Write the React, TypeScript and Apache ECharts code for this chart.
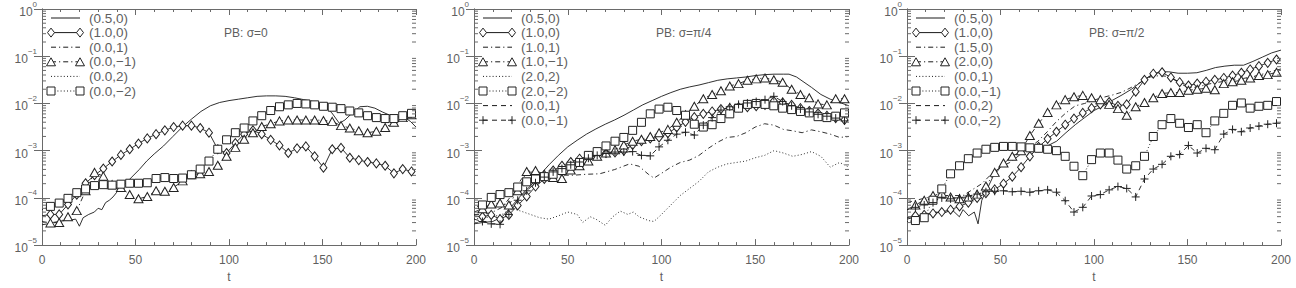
import React, { useEffect, useRef } from "react";
import * as echarts from "echarts";

// ---------- data (values stored as log10 of the plotted quantity) ----------
const T_MARK = [0, 4.5, 9.2, 13.9, 18.6, 23.3, 28.1, 32.8, 37.5, 42.2, 46.9, 51.6, 56.3, 61.0, 65.7, 70.4, 75.2, 79.9, 84.6, 89.3, 94.0, 98.7, 103.4, 108.1, 112.8, 117.5, 122.3, 127.0, 131.7, 136.4, 141.1, 145.8, 150.5, 155.2, 159.9, 164.6, 169.4, 174.1, 178.8, 183.5, 188.2, 192.9, 197.6];

// Panel 1: PB sigma=0
const P1_SOLID_T = [0, 3, 6, 9, 12, 15, 18, 20, 22, 25, 28, 30, 32, 34, 36, 38, 40, 44, 48, 52, 56, 60, 65, 70, 75, 80, 85, 90, 95, 100, 105, 110, 115, 120, 125, 130, 135, 140, 145, 150, 155, 159, 162, 166, 170, 174, 178, 182, 186, 190, 194, 197, 200];
const P1_SOLID = [-4.57, -4.55, -4.52, -4.5, -4.48, -4.47, -4.45, -4.6, -4.42, -4.35, -4.3, -4.22, -4.25, -4.1, -4.05, -3.98, -3.88, -3.72, -3.56, -3.4, -3.22, -3.07, -2.9, -2.7, -2.5, -2.33, -2.17, -2.05, -1.98, -1.94, -1.91, -1.88, -1.85, -1.84, -1.84, -1.85, -1.88, -1.92, -1.96, -2.02, -2.2, -2.42, -2.35, -2.2, -2.07, -2.06, -2.1, -2.18, -2.25, -2.28, -2.3, -2.38, -2.5];
const P1_DIAMOND = [-4.38, -4.35, -4.35, -4.14, -3.93, -3.69, -3.52, -3.38, -3.23, -3.09, -2.97, -2.85, -2.74, -2.65, -2.57, -2.5, -2.47, -2.47, -2.52, -2.62, -2.97, -3.05, -2.84, -2.65, -2.57, -2.65, -2.77, -2.89, -3.05, -2.95, -2.91, -3.12, -3.36, -2.97, -2.94, -3.15, -3.2, -3.24, -3.27, -3.32, -3.48, -3.39, -3.44];
const P1_TRIANGLE = [-4.5, -4.53, -4.52, -4.4, -4.27, -3.85, -3.46, -3.54, -3.72, -3.78, -3.93, -4.02, -3.97, -3.85, -3.86, -3.78, -3.64, -3.51, -3.49, -3.44, -3.31, -3.12, -2.93, -2.76, -2.62, -2.49, -2.43, -2.37, -2.35, -2.35, -2.35, -2.35, -2.36, -2.38, -2.47, -2.52, -2.58, -2.62, -2.59, -2.51, -2.4, -2.3, -2.24];
const P1_SQUARE = [-4.25, -4.18, -4.11, -4.01, -3.89, -3.81, -3.74, -3.72, -3.73, -3.71, -3.69, -3.69, -3.68, -3.59, -3.57, -3.59, -3.58, -3.51, -3.39, -3.22, -2.97, -2.77, -2.62, -2.52, -2.37, -2.26, -2.15, -2.07, -2.03, -2.0, -2.01, -2.03, -2.06, -2.08, -2.11, -2.16, -2.2, -2.26, -2.3, -2.32, -2.32, -2.26, -2.21];

// Panel 2: PB sigma=pi/4
const P2_SOLID_T = [0, 5, 10, 15, 20, 25, 30, 35, 40, 45, 50, 55, 60, 65, 70, 75, 80, 85, 90, 95, 100, 105, 110, 115, 120, 125, 130, 135, 140, 145, 150, 155, 160, 165, 168, 172, 176, 180, 185, 190, 195, 200];
const P2_SOLID = [-4.55, -4.52, -4.5, -4.4, -4.18, -3.95, -3.75, -3.52, -3.3, -3.1, -2.92, -2.78, -2.65, -2.54, -2.44, -2.35, -2.25, -2.14, -2.03, -1.94, -1.85, -1.77, -1.7, -1.65, -1.61, -1.56, -1.51, -1.48, -1.46, -1.44, -1.41, -1.39, -1.38, -1.38, -1.38, -1.44, -1.55, -1.66, -1.81, -1.91, -1.98, -2.05];
const P2_DASHDOT_T = [0, 5, 10, 15, 20, 25, 28, 33, 40, 47, 53, 60, 67, 75, 83, 88, 93, 96, 100, 105, 110, 115, 120, 125, 130, 135, 140, 145, 150, 155, 160, 165, 170, 175, 180, 185, 190, 195, 200];
const P2_DASHDOT = [-4.35, -4.35, -4.3, -4.2, -3.95, -3.62, -3.46, -3.45, -3.5, -3.52, -3.52, -3.5, -3.49, -3.4, -3.28, -3.33, -3.5, -3.58, -3.48, -3.35, -3.25, -3.2, -3.1, -2.95, -2.82, -2.72, -2.7, -2.62, -2.5, -2.43, -2.46, -2.55, -2.58, -2.62, -2.56, -2.6, -2.65, -2.72, -2.7];
const P2_DOTTED_T = [0, 5, 10, 15, 20, 25, 30, 35, 40, 45, 50, 55, 58, 62, 65, 70, 74, 78, 82, 85, 88, 93, 96, 100, 105, 110, 115, 120, 125, 130, 135, 140, 145, 150, 155, 160, 165, 170, 175, 180, 185, 190, 195, 200];
const P2_DOTTED = [-4.45, -4.42, -4.4, -4.35, -4.22, -4.28, -4.35, -4.42, -4.45, -4.38, -4.3, -4.35, -4.52, -4.4, -4.45, -4.58, -4.4, -4.28, -4.35, -4.3, -4.4, -4.48, -4.5, -4.35, -4.15, -3.95, -3.8, -3.65, -3.45, -3.35, -3.28, -3.25, -3.22, -3.15, -3.1, -3.0, -3.05, -3.12, -3.08, -3.02, -3.12, -3.35, -3.25, -3.35];
const P2_DIAMOND = [-4.38, -4.4, -4.36, -4.45, -4.36, -4.16, -3.97, -3.76, -3.6, -3.42, -3.32, -3.24, -3.17, -3.12, -3.09, -3.05, -3.04, -3.0, -2.88, -2.8, -2.74, -2.72, -2.63, -2.51, -2.39, -2.29, -2.22, -2.17, -2.12, -2.1, -2.08, -2.08, -2.06, -2.03, -1.95, -1.98, -2.03, -2.1, -2.16, -2.21, -2.26, -2.31, -2.35];
const P2_TRIANGLE = [-4.3, -4.23, -4.13, -4.11, -4.15, -3.85, -3.44, -3.42, -3.5, -3.57, -3.59, -3.41, -3.32, -3.22, -3.12, -3.05, -2.98, -2.88, -2.8, -2.76, -2.7, -2.62, -2.55, -2.4, -2.24, -2.06, -1.9, -1.81, -1.73, -1.63, -1.58, -1.51, -1.48, -1.46, -1.5, -1.55, -1.7, -1.81, -1.88, -2.01, -2.03, -1.9, -1.9];
const P2_SQUARE = [-4.2, -4.15, -3.99, -3.93, -3.89, -3.77, -3.66, -3.6, -3.55, -3.5, -3.42, -3.33, -3.25, -3.1, -3.02, -2.9, -2.8, -2.72, -2.57, -2.4, -2.22, -2.12, -2.08, -2.15, -2.25, -2.44, -2.5, -2.45, -2.32, -2.22, -2.1, -2.02, -2.0, -2.02, -2.05, -2.1, -2.13, -2.17, -2.2, -2.28, -2.3, -2.27, -2.2];
const P2_PLUS = [-4.45, -4.5, -4.55, -4.56, -4.35, -4.05, -3.85, -3.68, -3.56, -3.45, -3.38, -3.3, -3.24, -3.16, -3.1, -3.06, -3.03, -3.03, -3.02, -3.1, -3.11, -2.92, -2.78, -2.65, -2.61, -2.67, -2.46, -2.3, -2.14, -2.07, -2.02, -1.99, -1.96, -1.92, -1.85, -1.96, -2.05, -2.12, -2.18, -2.23, -2.27, -2.31, -2.37];

// Panel 3: PB sigma=pi/2
const P3_SOLID_T = [0, 5, 10, 15, 20, 24, 28, 30, 33, 36, 38, 40, 43, 46, 50, 55, 60, 65, 70, 75, 80, 85, 90, 95, 100, 105, 110, 115, 120, 125, 130, 135, 140, 145, 150, 155, 160, 165, 170, 175, 180, 185, 190, 195, 200];
const P3_SOLID = [-4.45, -4.4, -4.35, -4.3, -4.32, -4.25, -4.4, -4.25, -4.38, -4.3, -4.55, -4.05, -3.8, -3.55, -3.35, -3.15, -3.04, -2.98, -2.95, -2.9, -2.8, -2.62, -2.45, -2.3, -2.15, -2.05, -1.93, -1.82, -1.7, -1.55, -1.42, -1.33, -1.33, -1.36, -1.36, -1.35, -1.3, -1.24, -1.21, -1.19, -1.19, -1.11, -1.02, -0.93, -0.87];
const P3_DASHDOT_T = [0, 10, 20, 30, 40, 45, 50, 55, 60, 65, 70, 75, 80, 85, 90, 95, 100, 105, 110, 115, 120, 125, 130, 135, 140, 145, 150, 155, 160, 165, 170, 175, 180, 185, 190, 195, 200];
const P3_DASHDOT = [-4.1, -4.0, -3.95, -3.95, -3.7, -3.5, -3.35, -3.25, -3.1, -2.95, -2.8, -2.6, -2.38, -2.2, -2.05, -2.0, -1.93, -1.87, -1.82, -1.76, -1.66, -1.55, -1.44, -1.41, -1.43, -1.55, -1.66, -1.66, -1.6, -1.56, -1.53, -1.5, -1.47, -1.43, -1.38, -1.32, -1.27];
const P3_DIAMOND = [-4.42, -4.38, -4.36, -4.33, -4.3, -4.25, -4.18, -4.1, -4.0, -3.9, -3.82, -3.7, -3.55, -3.35, -3.12, -2.92, -2.75, -2.6, -2.45, -2.32, -2.2, -2.1, -2.02, -1.97, -2.05, -2.02, -1.75, -1.5, -1.37, -1.34, -1.45, -1.55, -1.62, -1.58, -1.54, -1.5, -1.46, -1.41, -1.35, -1.28, -1.21, -1.14, -1.07];
const P3_TRIANGLE = [-4.25, -4.15, -4.05, -3.95, -3.9, -3.98, -4.02, -3.98, -3.92, -3.75, -3.46, -3.26, -3.12, -3.0, -2.68, -2.42, -2.19, -2.03, -1.92, -1.86, -1.83, -1.88, -1.92, -2.02, -2.11, -2.25, -2.07, -1.98, -1.88, -1.79, -1.77, -1.77, -1.72, -1.7, -1.68, -1.71, -1.58, -1.54, -1.51, -1.46, -1.41, -1.39, -1.34];
const P3_SQUARE = [-4.5, -4.48, -4.42, -4.05, -3.81, -3.49, -3.32, -3.17, -3.05, -2.97, -2.93, -2.91, -2.91, -2.92, -2.94, -2.95, -2.97, -3.0, -3.12, -3.33, -3.53, -3.19, -3.05, -3.05, -3.2, -3.39, -3.32, -3.12, -2.7, -2.45, -2.32, -2.42, -2.51, -2.45, -2.62, -2.37, -2.21, -2.04, -1.99, -2.1, -2.06, -2.04, -1.96];
const P3_PLUS = [-4.25, -4.2, -4.15, -4.1, -4.0, -4.02, -4.0, -3.96, -3.92, -3.87, -3.86, -3.85, -3.87, -3.86, -3.88, -3.85, -3.83, -3.88, -4.06, -4.3, -4.2, -3.96, -3.93, -3.83, -3.76, -3.8, -3.98, -3.6, -3.39, -3.29, -3.12, -3.08, -2.89, -3.05, -2.95, -2.98, -2.65, -2.55, -2.6, -2.52, -2.48, -2.44, -2.42];

const PANEL_TITLES = ["PB: \u03c3=0", "PB: \u03c3=\u03c0/4", "PB: \u03c3=\u03c0/2"];
const X_TICKS = [0, 50, 100, 150, 200];
const Y_DECADES = [-5, -4, -3, -2, -1, 0];
const MINOR_MULT = [2, 3, 4, 5, 6, 7, 8, 9];

// ---------- styling ----------
const LINE = "#1a1a1a";
const MARK = "#222";
const AXIS = "#6a6a6a";
const TEXT = "#5f5f5f";
const FONT = "Liberation Sans, Arial, sans-serif";
const DASH: Record<string, any> = {
  solid: "solid",
  dashdot: [5, 3, 1.2, 3],
  dotted: [1, 2.2],
  dashed: [5, 4],
};
const SYMBOLS: Record<string, any> = {
  diamond: { symbol: "diamond", size: [7, 9] },
  triangle: { symbol: "triangle", size: [9, 8] },
  square: { symbol: "rect", size: 8 },
  plus: { symbol: "path://M0,4.5H9M4.5,0V9", size: 8 },
};

type Spec = { name: string; dash: string; marker?: string; t?: number[]; v: number[] };

const PANELS: Spec[][] = [
  [
    { name: "(0.5,0)", dash: "solid", t: P1_SOLID_T, v: P1_SOLID },
    { name: "(1.0,0)", dash: "solid", marker: "diamond", v: P1_DIAMOND },
    { name: "(0.0,1)", dash: "dashdot", t: [], v: [] },
    { name: "(0.0,\u22121)", dash: "dashdot", marker: "triangle", v: P1_TRIANGLE },
    { name: "(0.0,2)", dash: "dotted", t: [], v: [] },
    { name: "(0.0,\u22122)", dash: "dotted", marker: "square", v: P1_SQUARE },
  ],
  [
    { name: "(0.5,0)", dash: "solid", t: P2_SOLID_T, v: P2_SOLID },
    { name: "(1.0,0)", dash: "solid", marker: "diamond", v: P2_DIAMOND },
    { name: "(1.0,1)", dash: "dashdot", t: P2_DASHDOT_T, v: P2_DASHDOT },
    { name: "(1.0,\u22121)", dash: "dashdot", marker: "triangle", v: P2_TRIANGLE },
    { name: "(2.0,2)", dash: "dotted", t: P2_DOTTED_T, v: P2_DOTTED },
    { name: "(2.0,\u22122)", dash: "dotted", marker: "square", v: P2_SQUARE },
    { name: "(0.0,1)", dash: "dashed", t: [], v: [] },
    { name: "(0.0,\u22121)", dash: "dashed", marker: "plus", v: P2_PLUS },
  ],
  [
    { name: "(0.5,0)", dash: "solid", t: P3_SOLID_T, v: P3_SOLID },
    { name: "(1.0,0)", dash: "solid", marker: "diamond", v: P3_DIAMOND },
    { name: "(1.5,0)", dash: "dashdot", t: P3_DASHDOT_T, v: P3_DASHDOT },
    { name: "(2.0,0)", dash: "dashdot", marker: "triangle", v: P3_TRIANGLE },
    { name: "(0.0,1)", dash: "dotted", t: [], v: [] },
    { name: "(0.0,\u22121)", dash: "dotted", marker: "square", v: P3_SQUARE },
    { name: "(0.0,2)", dash: "dashed", t: [], v: [] },
    { name: "(0.0,\u22122)", dash: "dashed", marker: "plus", v: P3_PLUS },
  ],
];

const GRIDS = [
  { left: 42, top: 5, width: 374, height: 248 },
  { left: 474, top: 5, width: 375, height: 248 },
  { left: 907, top: 5, width: 374, height: 248 },
];

function legendMarker(kind: string, x: number, y: number): any[] {
  const st = { stroke: MARK, fill: "#fff", lineWidth: 1 };
  if (kind === "diamond")
    return [{ type: "polygon", shape: { points: [[x, y - 4.5], [x + 3.5, y], [x, y + 4.5], [x - 3.5, y]] }, style: st, z: 20 }];
  if (kind === "triangle")
    return [{ type: "polygon", shape: { points: [[x, y - 4], [x + 4.5, y + 4], [x - 4.5, y + 4]] }, style: st, z: 20 }];
  if (kind === "square")
    return [{ type: "rect", shape: { x: x - 4, y: y - 4, width: 8, height: 8 }, style: st, z: 20 }];
  if (kind === "plus")
    return [
      { type: "line", shape: { x1: x - 4, y1: y, x2: x + 4, y2: y }, style: { stroke: MARK, lineWidth: 1 }, z: 20 },
      { type: "line", shape: { x1: x, y1: y - 4, x2: x, y2: y + 4 }, style: { stroke: MARK, lineWidth: 1 }, z: 20 },
    ];
  return [];
}

function buildOption() {
  const xAxis: any[] = [];
  const yAxis: any[] = [];
  const series: any[] = [];
  const graphic: any[] = [];
  const minorTicks: number[] = [];
  Y_DECADES.slice(0, -1).forEach((e) => MINOR_MULT.forEach((m) => minorTicks.push(m * Math.pow(10, e))));

  GRIDS.forEach((g, i) => {
    const tickBase = {
      axisLine: { lineStyle: { color: AXIS, width: 1 } },
      splitLine: { show: false },
      minorSplitLine: { show: false },
    };
    xAxis.push({
      type: "value", gridIndex: i, min: X_TICKS[0], max: X_TICKS[X_TICKS.length - 1], interval: 50,
      ...tickBase,
      axisTick: { inside: true, length: 6, lineStyle: { color: AXIS } },
      minorTick: { show: true, splitNumber: 5, length: 3, lineStyle: { color: AXIS } },
      axisLabel: { color: TEXT, fontSize: 12, fontFamily: FONT, margin: 9 },
      name: "t", nameLocation: "middle", nameGap: 24,
      nameTextStyle: { color: TEXT, fontSize: 12, fontFamily: FONT },
    });
    xAxis.push({
      type: "value", gridIndex: i, position: "top", min: 0, max: 200, interval: 50,
      ...tickBase,
      axisTick: { inside: true, length: 6, lineStyle: { color: AXIS } },
      minorTick: { show: true, splitNumber: 5, length: 3, lineStyle: { color: AXIS } },
      axisLabel: { show: false },
    });
    const yBase = {
      type: "log", logBase: 10, gridIndex: i, min: 1e-5, max: 1,
      ...tickBase,
      axisTick: { inside: true, length: 8, lineStyle: { color: AXIS } },
    };
    yAxis.push({
      ...yBase,
      axisLabel: {
        margin: 5,
        formatter: (v: number) => {
          const e = Math.round(Math.log10(v));
          return "{b|10}{s|" + (e < 0 ? "\u2212" + -e : String(e)) + "}";
        },
        rich: {
          b: { fontSize: 12, color: TEXT, fontFamily: FONT, lineHeight: 18, verticalAlign: "bottom" },
          s: { fontSize: 8, color: TEXT, fontFamily: FONT, lineHeight: 18, verticalAlign: "top" },
        },
      },
    });
    yAxis.push({ ...yBase, position: "right", axisLabel: { show: false } });

    // log minor ticks on both sides
    series.push({
      type: "custom", xAxisIndex: 2 * i, yAxisIndex: 2 * i, silent: true, clip: false, z: 5,
      data: minorTicks.map((v) => [0, v]),
      renderItem: (_p: any, api: any) => {
        const v = api.value(1);
        const l = api.coord([0, v]);
        const r = api.coord([200, v]);
        return {
          type: "group",
          children: [
            { type: "line", shape: { x1: l[0], y1: l[1], x2: l[0] + 4, y2: l[1] }, style: { stroke: AXIS, lineWidth: 1 } },
            { type: "line", shape: { x1: r[0] - 4, y1: r[1], x2: r[0], y2: r[1] }, style: { stroke: AXIS, lineWidth: 1 } },
          ],
        };
      },
    });

    PANELS[i].forEach((s, j) => {
      const base: any = {
        type: "line", name: s.name, xAxisIndex: 2 * i, yAxisIndex: 2 * i,
        lineStyle: { color: LINE, width: 0.9, type: DASH[s.dash] },
        itemStyle: { color: "#fff", borderColor: MARK, borderWidth: 1 },
        emphasis: { disabled: true },
        z: s.marker ? 3 : 2,
      };
      if (s.marker) {
        const sym = SYMBOLS[s.marker];
        base.symbol = sym.symbol;
        base.symbolSize = sym.size;
        base.showSymbol = true;
        base.showAllSymbol = true;
        base.data = s.v.map((lv, k) =>
          k === 0 ? { value: [T_MARK[k], Math.pow(10, lv)], symbol: "none" } : [T_MARK[k], Math.pow(10, lv)]
        );
      } else {
        base.showSymbol = false;
        base.symbol = "none";
        base.data = (s.t || []).map((t, k) => [t, Math.pow(10, s.v[k])]);
      }
      series.push(base);

      // legend row
      const y = 18 + j * 14.6;
      const x1 = g.left + 9;
      const x2 = g.left + 38;
      graphic.push({
        type: "line", shape: { x1, y1: y, x2, y2: y },
        style: { stroke: LINE, lineWidth: 1, lineDash: s.dash === "solid" ? null : DASH[s.dash] }, z: 10,
      });
      if (s.marker) {
        graphic.push(...legendMarker(s.marker, x1, y));
        graphic.push(...legendMarker(s.marker, x2, y));
      }
      graphic.push({
        type: "text", x: g.left + 47, y, z: 10,
        style: { text: s.name, fill: TEXT, font: "13.5px " + FONT, verticalAlign: "middle" },
      });
    });

    graphic.push({
      type: "text", x: g.left + 182, y: 33, z: 10,
      style: { text: PANEL_TITLES[i], fill: TEXT, font: "12px " + FONT, verticalAlign: "middle" },
    });
  });

  return {
    animation: false,
    backgroundColor: "#fff",
    grid: GRIDS.map((g) => ({ ...g, containLabel: false })),
    xAxis,
    yAxis,
    series,
    graphic,
  };
}

export default function App() {
  const ref = useRef<HTMLDivElement>(null);
  useEffect(() => {
    document.body.style.margin = "0";
    const chart = echarts.init(ref.current as HTMLDivElement, null, { renderer: "svg" });
    chart.setOption(buildOption() as any);
    return () => chart.dispose();
  }, []);
  return <div ref={ref} style={{ width: 1296, height: 288 }} />;
}
